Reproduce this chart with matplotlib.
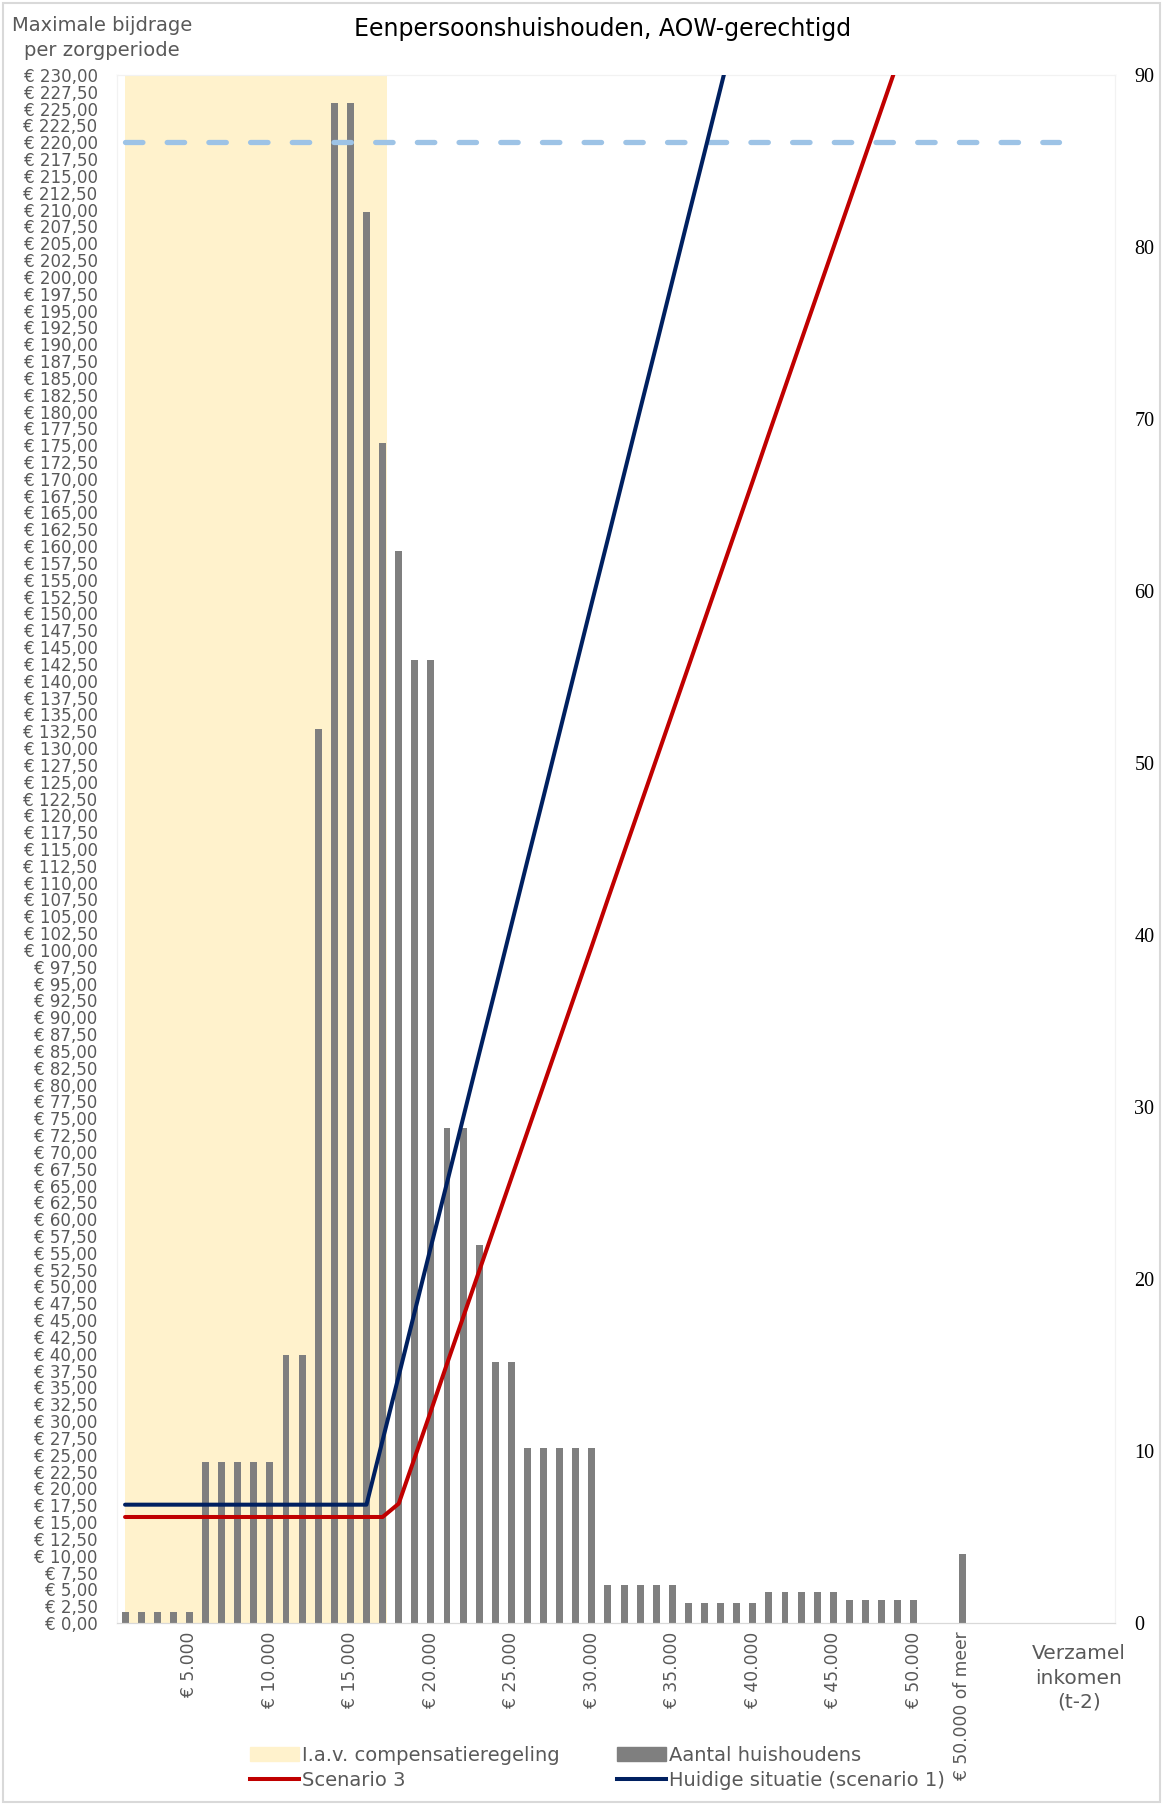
import matplotlib
matplotlib.use("Agg")
import matplotlib.pyplot as plt
from matplotlib.patches import Patch, Rectangle
from matplotlib.lines import Line2D
import numpy as np

# Data (categories are income steps of EUR 1.000).
n_cats = 62
cats = list(range(1, n_cats + 1))

# Aantal huishoudens (right axis), one value per category.
huishoudens = ([0.62] * 5 + [9.34] * 5 + [15.6] * 2 + [52.0, 88.4, 88.4, 82.05, 68.6, 62.3, 56.0, 56.0,
               28.8, 28.8, 22.0, 15.2, 15.2] + [10.2] * 5 + [2.2] * 5 + [1.16] * 5 + [1.8] * 5 +
               [1.36] * 5 + [0, 0, 4.0] + [0] * 9)

# Huidige situatie (scenario 1), left axis, categories 1..39.
huidig = [17.58] * 16 + [27.15, 36.7, 46.3, 55.9, 65.4, 75.0, 84.6, 94.1, 103.7, 113.3, 122.8,
                         132.4, 142.0, 151.6, 161.1, 170.7, 180.3, 189.8, 199.4, 209.0, 218.5,
                         228.1, 237.7]

# Scenario 3, left axis, categories 1..49.
scenario3 = [15.75] * 17 + [17.73, 24.6, 31.5, 38.5, 45.4, 52.3, 59.2, 66.1, 73.0, 79.9, 86.8,
                            93.7, 100.6, 107.6, 114.5, 121.4, 128.3, 135.2, 142.1, 149.0, 155.9,
                            162.8, 169.7, 176.7, 183.6, 190.5, 197.4, 204.3, 211.2, 218.1, 225.0,
                            231.9]

# Maximum line and compensation range.
maximum = 220.0
maximum_cats = 59
compensatie_van = 1
compensatie_tot = 17.25

# X tick labels.
xtick_pos = [5, 10, 15, 20, 25, 30, 35, 40, 45, 50, 53]
xtick_labels = ["€ 5.000", "€ 10.000", "€ 15.000", "€ 20.000", "€ 25.000", "€ 30.000",
                "€ 35.000", "€ 40.000", "€ 45.000", "€ 50.000", "€ 50.000 of meer"]

grey_text = "#595959"
plt.rcParams['font.family'] = ['DejaVu Sans']

fig = plt.figure(figsize=(11.63, 18.05), dpi=100)
ax = fig.add_axes([117 / 1163, 1 - 1623 / 1805, 998 / 1163, 1548 / 1805])
ax2 = ax.twinx()

# Bars go behind the lines.
ax2.set_zorder(ax.get_zorder() - 1)
ax.patch.set_visible(False)

# Yellow compensation area.
ax2.axvspan(compensatie_van, compensatie_tot, color="#FFF2CC", zorder=0, lw=0)

# Bars.
ax2.bar(cats, huishoudens, width=0.43, color="#7F7F7F", zorder=2)

# Lines.
ax.plot(cats[:maximum_cats], [maximum] * maximum_cats, color="#9DC3E6", lw=3.8,
        linestyle=(0, (3.3, 4.6)), dash_capstyle="round", zorder=3)
ax.plot(cats[:len(scenario3)], scenario3, color="#C00000", lw=2.9, solid_capstyle="round",
        solid_joinstyle="round", zorder=4)
ax.plot(cats[:len(huidig)], huidig, color="#002060", lw=2.9, solid_capstyle="round",
        solid_joinstyle="round", zorder=5)

# Axes.
ax.set_xlim(0.5, n_cats + 0.5)
ax.set_ylim(0, 230)
ax2.set_ylim(0, 90)

yticks = np.arange(0, 230.01, 2.5)
ax.set_yticks(yticks)
ax.set_yticklabels(["€ " + f"{v:.2f}".replace(".", ",") for v in yticks], color=grey_text, fontsize=12)
ax.tick_params(axis="y", length=0, pad=14)

ax2.set_yticks(range(0, 91, 10))
ax2.set_yticklabels([str(v) for v in range(0, 91, 10)], family="Liberation Serif", fontsize=14.5)
ax2.tick_params(axis="y", length=0, pad=14)

ax.set_xticks(xtick_pos)
ax.set_xticklabels(xtick_labels, rotation=90, color=grey_text, fontsize=12.3)
ax.tick_params(axis="x", length=0, pad=6)

for a in (ax, ax2):
    for side in ("left", "right", "top"):
        a.spines[side].set_color("#F2F2F2")
    a.spines["bottom"].set_color("#D9D9D9")

# Texts.
fig.text(603 / 1163, 1 - 29 / 1805, "Eenpersoonshuishouden, AOW-gerechtigd", ha="center", va="center",
         fontsize=17)
fig.text(102 / 1163, 1 - 38 / 1805, "Maximale bijdrage\nper zorgperiode", ha="center", va="center",
         fontsize=14, color=grey_text, linespacing=1.4)
fig.text(1079 / 1163, 1 - 1678 / 1805, "Verzamel\ninkomen\n(t-2)", ha="center", va="center",
         fontsize=14.5, color=grey_text, linespacing=1.35)

# Legend.
handles = [Patch(color="#FFF2CC"), Line2D([], [], color="#C00000", lw=2.9),
           Patch(color="#7F7F7F"), Line2D([], [], color="#002060", lw=2.9)]
labels = ["I.a.v. compensatieregeling", "Scenario 3", "Aantal huishoudens", "Huidige situatie (scenario 1)"]
fig.legend(handles, labels, ncol=2, loc="upper left", bbox_to_anchor=(250 / 1163, 1 - 1746 / 1805),
           frameon=False, fontsize=14, handlelength=2.5, handletextpad=0.15, columnspacing=3.0,
           labelspacing=0.3, borderpad=0, borderaxespad=0, labelcolor=grey_text)

# Chart border.
fig.patches.append(Rectangle((3 / 1163, 3 / 1805), 1157 / 1163, 1799 / 1805, transform=fig.transFigure,
                             fill=False, edgecolor="#D9D9D9", lw=1.5))

fig.savefig("out.png", dpi=100)
